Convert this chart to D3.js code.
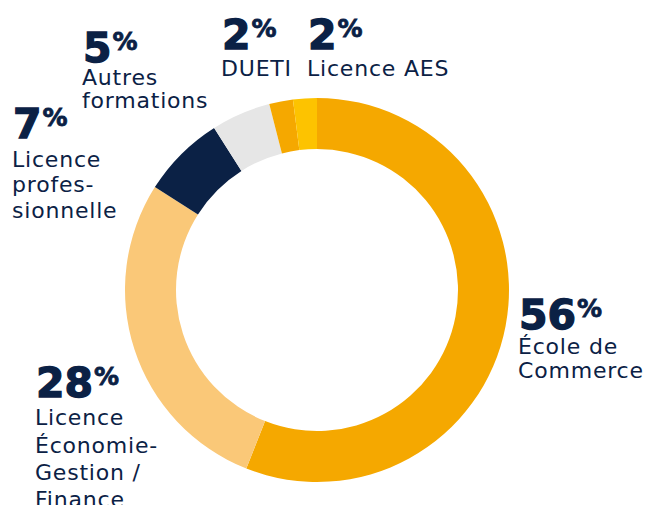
<!DOCTYPE html>
<html>
<head>
<meta charset="utf-8">
<script src="https://cdn.jsdelivr.net/npm/d3@7"></script>
<style>
    body { margin: 0; background: #fff; }
    .pct { font-family: "DejaVu Sans", sans-serif; font-weight: bold; fill: #0b2145; stroke: #0b2145; stroke-width: 1.3px; }
    .lbl { font-family: "DejaVu Sans", sans-serif; fill: #0b2145; letter-spacing: 0.8px; }
</style>
</head>
<body>
<svg id="chart"></svg>
<script>
// data
var categories = [
    ['École de', 'Commerce'],
    ['Licence', 'Économie-', 'Gestion /', 'Finance'],
    ['Licence', 'profes-', 'sionnelle'],
    ['Autres', 'formations'],
    ['DUETI'],
    ['Licence AES']
];
var values = [56, 28, 7, 5, 2, 2];
var colors = ['#f5a800', '#fac878', '#0b2145', '#e6e6e6', '#f5a800', '#fdc300'];

// label anchors: left x, baseline of the number, baselines of text lines
var labelPos = [
    {x: 518, y: 329, lines: [354, 378]},
    {x: 35, y: 397, lines: [425, 453, 480, 507]},
    {x: 12, y: 138, lines: [167, 192, 218]},
    {x: 82, y: 62, lines: [85, 108]},
    {x: 221, y: 49, lines: [76]},
    {x: 307, y: 49, lines: [76]}
];

function drawDonut(selector) {
    var svgWidth = 647,
        svgHeight = 505;
    var cx = 317, cy = 290;
    var outerRadius = 192, innerRadius = 141;

    var svg = d3.select(selector)
        .attr('width', svgWidth)
        .attr('height', svgHeight);

    var pie = d3.pie().sort(null).value(function(d) { return d; });
    var pieData = pie(values);
    var arc = d3.arc().innerRadius(innerRadius).outerRadius(outerRadius);

    // slices
    svg.append('g')
        .attr('transform', 'translate(' + cx + ',' + cy + ')')
        .selectAll('path')
        .data(pieData)
        .enter()
        .append('path')
        .attr('fill', function(d, i) { return colors[i]; })
        .attr('d', arc);

    // labels
    var labels = svg.selectAll('.label')
        .data(pieData)
        .enter()
        .append('g')
        .attr('class', 'label');

    var pct = labels.append('text')
        .attr('class', 'pct')
        .attr('x', function(d, i) { return labelPos[i].x + 1; })
        .attr('y', function(d, i) { return labelPos[i].y; })
        .style('font-size', '41px')
        .text(function(d) { return d.value; });
    pct.append('tspan')
        .attr('dx', 1)
        .attr('dy', -12)
        .style('font-size', '25px')
        .style('stroke-width', '0.8px')
        .text('%');

    labels.each(function(d, i) {
        var g = d3.select(this);
        categories[i].forEach(function(line, j) {
            g.append('text')
                .attr('class', 'lbl')
                .attr('x', labelPos[i].x)
                .attr('y', labelPos[i].lines[j])
                .style('font-size', '22px')
                .text(line);
        });
    });
}
drawDonut('#chart');
</script>
</body>
</html>
